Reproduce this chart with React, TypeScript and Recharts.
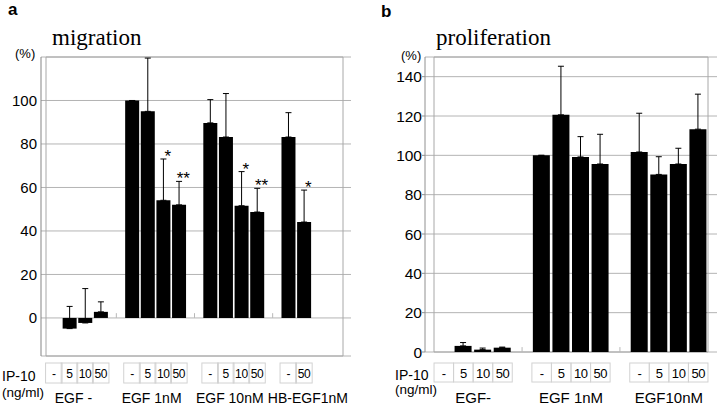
import React from "react";
import {
  ComposedChart,
  Bar,
  Line,
  XAxis,
  YAxis,
  CartesianGrid,
  ErrorBar,
  ReferenceArea,
  ReferenceLine,
} from "recharts";

const SANS = '"Liberation Sans", Arial, sans-serif';
const SERIF = '"Liberation Serif", "Times New Roman", serif';

// panel a: migration
const migGroups = ["EGF -", "EGF 1nM", "EGF 10nM", "HB-EGF1nM"];
const migDoses = [
  ["-", "5", "10", "50"],
  ["-", "5", "10", "50"],
  ["-", "5", "10", "50"],
  ["-", "50"],
];
const migValues = [
  [0, -4.9, -2.3, 2.8],
  [100, 95, 54.1, 52],
  [89.7, 83.2, 51.6, 48.7],
  [83.2, 44.1],
];
const migErrors = [
  [0, 10.2, 15.8, 4.6],
  [0, 24.5, 19, 10.8],
  [10.7, 20, 15.7, 10.9],
  [11.2, 14.7],
];
const migStars = [
  ["", "", "", ""],
  ["", "", "*", "**"],
  ["", "", "*", "**"],
  ["", "*"],
];
const migTicks = [0, 20, 40, 60, 80, 100];

// panel b: proliferation
const proGroups = ["EGF-", "EGF 1nM", "EGF10nM"];
const proDoses = [
  ["-", "5", "10", "50"],
  ["-", "5", "10", "50"],
  ["-", "5", "10", "50"],
];
const proValues = [
  [0, 3.1, 1.2, 2.2],
  [100, 120.6, 99.2, 95.6],
  [101.7, 90.3, 95.6, 113.3],
];
const proErrors = [
  [0, 1.7, 0.8, 0.3],
  [0, 24.7, 10.3, 15.1],
  [19.7, 9, 8, 17.8],
];
const proTicks = [0, 20, 40, 60, 80, 100, 120, 140];

type Row = {
  id: string;
  dose: string;
  group: string;
  value: number | null;
  err: number[] | null;
  star: string;
  starY: number | null;
  spacer: boolean;
};

function buildRows(
  groups: string[],
  doses: string[][],
  values: number[][],
  errors: number[][],
  stars?: string[][]
): Row[] {
  const rows: Row[] = [];
  groups.forEach((g, gi) => {
    if (gi > 0) {
      rows.push({ id: `sp${gi}`, dose: "", group: "", value: null, err: null, star: "", starY: null, spacer: true });
    }
    for (let i = 0; i < 4; i++) {
      const v = values[gi][i];
      const has = v !== undefined;
      const s = stars && has ? stars[gi][i] || "" : "";
      rows.push({
        id: `g${gi}-${i}`,
        dose: has ? doses[gi][i] : "",
        group: i === 1 ? g : "",
        value: has ? v : null,
        err: has ? [0, errors[gi][i]] : null,
        star: s,
        starY: s ? v + errors[gi][i] : null,
        spacer: false,
      });
    }
  });
  return rows;
}

const migRows = buildRows(migGroups, migDoses, migValues, migErrors, migStars);
const proRows = buildRows(proGroups, proDoses, proValues, proErrors);

type TickCfg = {
  cellW: number;
  cellTop: number;
  cellH: number;
  cellBase: number;
  cellSize: number;
  labelDx: number;
  labelBase: number;
  labelSize: number;
};

function cellTick(rows: Row[], cfg: TickCfg) {
  return (props: any) => {
    const { x, y } = props;
    const idx = props.index ?? props.payload?.index;
    const row = rows[idx];
    if (!row) return <g />;
    return (
      <g>
        {row.dose && (
          <rect
            x={x - cfg.cellW / 2}
            y={y + cfg.cellTop}
            width={cfg.cellW}
            height={cfg.cellH}
            fill="none"
            stroke="#d2d2d2"
          />
        )}
        {row.dose && (
          <text
            x={x}
            y={y + cfg.cellBase}
            textAnchor="middle"
            fontSize={cfg.cellSize}
            letterSpacing={-0.4}
            fontFamily={SANS}
            fill="#000"
          >
            {row.dose}
          </text>
        )}
        {row.group && (
          <text
            x={x + cfg.labelDx}
            y={y + cfg.labelBase}
            textAnchor="middle"
            fontSize={cfg.labelSize}
            fontFamily={SANS}
            fill="#000"
          >
            {row.group}
          </text>
        )}
      </g>
    );
  };
}

function starLabel(rows: Row[]) {
  return (props: any) => {
    const { x, y, index, value } = props;
    const row = rows[index];
    if (value == null || !row || !row.star) return null;
    return (
      <text x={x + 4.5} y={y + 3} textAnchor="middle" fontSize={17} fontFamily={SANS} fill="#000">
        {row.star}
      </text>
    );
  };
}

function MigrationChart() {
  const sep = migRows.filter((r) => r.spacer);
  return (
    <ComposedChart
      width={360}
      height={407}
      data={migRows}
      margin={{ top: 57, right: 9, bottom: 0, left: 0 }}
      style={{ fontFamily: SANS }}
    >
      <CartesianGrid vertical={false} stroke="#b4b4b4" />
      <ReferenceArea y1={-17.5} y2={120} fill="none" stroke="#a8a8a8" ifOverflow="visible" />
      {sep.map((r) => (
        <ReferenceLine
          key={r.id}
          segment={[
            { x: r.id, y: 0 },
            { x: r.id, y: 2.2 },
          ]}
          stroke="#b8b8b8"
          ifOverflow="visible"
        />
      ))}
      <XAxis
        dataKey="id"
        interval={0}
        axisLine={false}
        tickLine={false}
        tickSize={0}
        tickMargin={0}
        height={51}
        padding={{ left: 5, right: 8 }}
        tick={cellTick(migRows, {
          cellW: 16.5,
          cellTop: 7,
          cellH: 20,
          cellBase: 22,
          cellSize: 12,
          labelDx: 4,
          labelBase: 47,
          labelSize: 14,
        })}
      />
      <YAxis
        width={41}
        domain={[-17.5, 120]}
        ticks={migTicks}
        axisLine={{ stroke: "#858585" }}
        tickLine={false}
        tickSize={0}
        tickMargin={4}
        tick={{ fill: "#000", fontSize: 15 }}
      />
      <Bar dataKey="value" fill="#000" barSize={14} isAnimationActive={false}>
        <ErrorBar dataKey="err" direction="y" width={3} stroke="#000" strokeWidth={1} />
      </Bar>
      <Line
        dataKey="starY"
        stroke="none"
        dot={false}
        activeDot={false}
        isAnimationActive={false}
        label={starLabel(migRows)}
      />
    </ComposedChart>
  );
}

function ProliferationChart() {
  const sep = proRows.filter((r) => r.spacer);
  return (
    <ComposedChart
      width={360}
      height={407}
      data={proRows}
      margin={{ top: 57, right: 3, bottom: 0, left: 0 }}
      style={{ fontFamily: SANS }}
    >
      <CartesianGrid vertical={false} stroke="#b4b4b4" />
      <ReferenceArea y1={0} y2={150} fill="none" stroke="#a8a8a8" ifOverflow="visible" />
      {sep.map((r) => (
        <ReferenceLine
          key={r.id}
          segment={[
            { x: r.id, y: 0 },
            { x: r.id, y: 2.5 },
          ]}
          stroke="#b8b8b8"
          ifOverflow="visible"
        />
      ))}
      <XAxis
        dataKey="id"
        interval={0}
        axisLine={false}
        tickLine={false}
        tickSize={0}
        tickMargin={0}
        height={55}
        padding={{ left: 9, right: 9 }}
        tick={cellTick(proRows, {
          cellW: 19.5,
          cellTop: 11,
          cellH: 19,
          cellBase: 26,
          cellSize: 13,
          labelDx: 9.8,
          labelBase: 51,
          labelSize: 15,
        })}
      />
      <YAxis
        width={65}
        domain={[0, 150]}
        ticks={proTicks}
        axisLine={{ stroke: "#909090" }}
        tickLine={{ stroke: "#909090" }}
        tickSize={3}
        tickMargin={0}
        tick={{ fill: "#000", fontSize: 15.5 }}
      />
      <Bar dataKey="value" fill="#000" barSize={17} isAnimationActive={false}>
        <ErrorBar dataKey="err" direction="y" width={3} stroke="#000" strokeWidth={1} />
      </Bar>
    </ComposedChart>
  );
}

export default function App() {
  return (
    <div style={{ position: "absolute", left: 0, top: 0, width: 720, height: 407, background: "#fff" }}>
      <div style={{ position: "absolute", left: 0, top: 0 }}>
        <MigrationChart />
      </div>
      <div style={{ position: "absolute", left: 360, top: 0 }}>
        <ProliferationChart />
      </div>
      <svg
        width={720}
        height={407}
        style={{ position: "absolute", left: 0, top: 0, pointerEvents: "none" }}
      >
        <text x={8} y={15} fontSize={17} fontWeight="bold" fontFamily={SANS}>a</text>
        <text x={381} y={17} fontSize={17} fontWeight="bold" fontFamily={SANS}>b</text>
        <text x={52} y={45} fontSize={23} fontFamily={SERIF}>migration</text>
        <text x={436} y={45} fontSize={23} fontFamily={SERIF}>proliferation</text>
        <text x={15} y={58} fontSize={13} fontFamily={SANS}>(%)</text>
        <text x={401} y={60} fontSize={13} fontFamily={SANS}>(%)</text>
        <text x={2} y={381} fontSize={14} fontFamily={SANS}>IP-10</text>
        <text x={2} y={397} fontSize={13.5} fontFamily={SANS}>(ng/ml)</text>
        <text x={395} y={380} fontSize={14} fontFamily={SANS}>IP-10</text>
        <text x={395} y={394} fontSize={13.5} fontFamily={SANS}>(ng/ml)</text>
      </svg>
    </div>
  );
}
